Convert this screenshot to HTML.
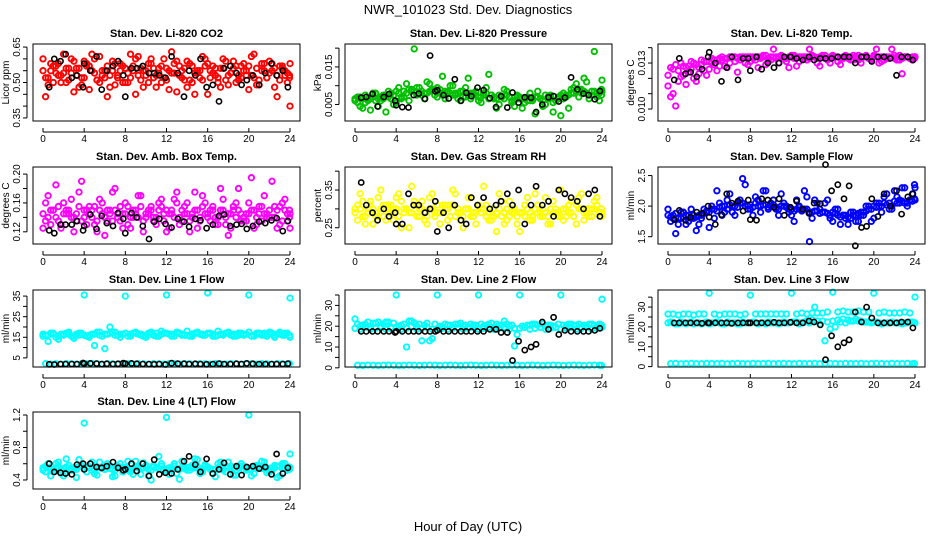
<!DOCTYPE html>
<html><head><meta charset="utf-8"><style>
html,body{margin:0;padding:0;background:#fff;}
svg{display:block;font-family:"Liberation Sans",Arial,sans-serif;}
</style></head><body>
<svg id="chart" width="936" height="540" viewBox="0 0 936 540">
<rect x="0" y="0" width="936" height="540" fill="#fff"/>
<text x="468" y="14" font-size="13" text-anchor="middle">NWR_101023 Std. Dev. Diagnostics</text>
<text x="468" y="531" font-size="13" text-anchor="middle">Hour of Day (UTC)</text>
</svg>
<script>
// shared hours
const H1 = [0,0.5,1,1.5,2,2.5,3,3.5,4,4.5,5,5.5,6,6.5,7,7.5,8,8.5,9,9.5,10,10.5,11,11.5,12,12.5,13,13.5,14,14.5,15,15.5,16,16.5,17,17.5,18,18.5,19,19.5,20,20.5,21,21.5,22,22.5,23,23.5,24];
const H2 = [0.25,0.75,1.25,1.75,2.25,2.75,3.25,3.75,4.25,4.75,5.25,5.75,6.25,6.75,7.25,7.75,8.25,8.75,9.25,9.75,10.25,10.75,11.25,11.75,12.25,12.75,13.25,13.75,14.25,14.75,15.25,15.75,16.25,16.75,17.25,17.75,18.25,18.75,19.25,19.75,20.25,20.75,21.25,21.75,22.25,22.75,23.25,23.75,23.95];
const BH = [0.6,1.1,1.7,2.2,2.8,3.3,3.9,4.0,4.6,5.2,5.7,6.2,6.8,7.3,7.8,8.0,8.6,9.1,9.7,10.3,10.8,11.3,11.9,12.5,13.1,13.7,14.2,14.8,15.3,15.9,16.5,17.1,17.6,18.2,18.8,19.3,19.8,20.4,21.0,21.6,22.2,22.7,23.3,23.8];
const xTicks = [0,4,8,12,16,20,24];

// CO2
const co2A=[.60,.49,.57,.53,.62,.51,.46,.56,.59,.47,.54,.61,.52,.48,.58,.55,.50,.62,.45,.56,.53,.60,.48,.57,.51,.63,.46,.55,.59,.50,.54,.61,.45,.57,.52,.60,.49,.56,.53,.58,.47,.62,.51,.55,.59,.48,.57,.53,.40];
const co2B=[.55,.52,.50,.58,.54,.56,.59,.48,.52,.57,.60,.50,.55,.53,.49,.58,.56,.52,.60,.51,.55,.58,.53,.50,.56,.54,.59,.52,.48,.57,.55,.51,.58,.54,.50,.56,.53,.59,.51,.55,.57,.52,.49,.58,.54,.56,.51,.55,.58];
const co2C=[.44,.58,.54,.50,.56,.60,.53,.49,.57,.62,.51,.55,.44,.59,.53,.57,.50,.55,.61,.48,.58,.52,.56,.60,.47,.54,.57,.51,.58,.45,.55,.60,.52,.56,.48,.59,.54,.50,.57,.53,.61,.49,.55,.52,.58,.44,.56,.50,.53];
const co2D=[.52,.55,.57,.53,.50,.54,.56,.52,.58,.55,.51,.53,.57,.55,.52,.50,.54,.57,.53,.55,.50,.56,.54,.52,.55,.58,.53,.56,.51,.54,.52,.57,.55,.53,.56,.51,.54,.57,.52,.55,.53,.56,.58,.52,.55,.53,.57,.54,.52];
const co2K=[.48,.60,.59,.62,.52,.53,.48,.58,.55,.61,.47,.55,.57,.59,.53,.44,.56,.56,.57,.54,.54,.53,.52,.61,.54,.44,.55,.53,.60,.48,.49,.42,.56,.57,.54,.49,.51,.53,.49,.54,.58,.53,.55,.48];
// Pressure
const prA=[.0065,.0045,.0075,.0035,.0060,.0070,.0030,.0080,.0055,.0065,.0105,.0085,.0095,.0075,.0110,.0090,.0070,.0125,.0080,.0100,.0065,.0085,.0120,.0075,.0060,.0080,.0130,.0065,.0050,.0090,.0070,.0045,.0065,.0055,.0080,.0025,.0065,.0050,.0075,.0060,.0020,.0075,.0090,.0105,.0080,.0110,.0085,.0070,.0115];
const prB=[.0060,.0070,.0055,.0065,.0080,.0060,.0075,.0065,.0085,.0070,.0080,.0090,.0075,.0085,.0080,.0090,.0095,.0080,.0085,.0075,.0080,.0070,.0075,.0080,.0070,.0075,.0065,.0070,.0075,.0065,.0070,.0060,.0070,.0065,.0060,.0070,.0065,.0075,.0070,.0060,.0075,.0070,.0080,.0085,.0090,.0080,.0075,.0080,.0085];
const prC=[.0070,.0040,.0065,.0080,.0045,.0065,.0085,.0050,.0095,.0070,.0060,.0198,.0080,.0065,.0105,.0075,.0090,.0065,.0100,.0080,.0060,.0095,.0065,.0085,.0055,.0095,.0075,.0040,.0070,.0085,.0055,.0075,.0040,.0070,.0060,.0085,.0045,.0070,.0030,.0065,.0080,.0040,.0095,.0070,.0120,.0065,.0191,.0060,.0090];
const prD=[.0055,.0065,.0060,.0070,.0065,.0075,.0070,.0075,.0080,.0085,.0090,.0085,.0095,.0080,.0085,.0090,.0080,.0085,.0080,.0075,.0085,.0070,.0080,.0075,.0070,.0080,.0075,.0065,.0070,.0075,.0060,.0070,.0065,.0060,.0065,.0070,.0060,.0065,.0055,.0070,.0065,.0075,.0080,.0090,.0085,.0075,.0085,.0080,.0075];
const prK=[.0068,.0070,.0078,.0045,.0070,.0078,.0060,.0048,.0043,.0042,.0075,.0079,.0065,.0180,.0085,.0088,.0075,.0066,.0117,.0060,.0081,.0072,.0095,.0088,.0067,.0043,.0072,.0042,.0082,.0055,.0069,.0068,.0030,.0050,.0069,.0072,.0058,.0068,.0122,.0090,.0079,.0075,.0064,.0086];
// Temp
const tpA=[.0115,.0110,.0118,.0122,.0128,.0120,.0127,.0125,.0131,.0129,.0133,.0128,.0134,.0131,.0134,.0130,.0134,.0132,.0134,.0129,.0134,.0133,.0135,.0131,.0134,.0128,.0134,.0132,.0134,.0130,.0135,.0133,.0134,.0131,.0134,.0133,.0135,.0132,.0134,.0133,.0134,.0130,.0134,.0133,.0135,.0132,.0134,.0133,.0134];
const tpB=[.0122,.0126,.0125,.0128,.0124,.0130,.0123,.0131,.0126,.0132,.0128,.0133,.0130,.0134,.0132,.0134,.0131,.0134,.0133,.0135,.0132,.0134,.0134,.0133,.0135,.0134,.0133,.0134,.0135,.0133,.0134,.0132,.0135,.0134,.0133,.0134,.0132,.0135,.0134,.0133,.0135,.0134,.0132,.0134,.0133,.0135,.0134,.0133,.0134];
const tpC=[.0108,.0102,.0121,.0116,.0126,.0118,.0129,.0122,.0130,.0125,.0132,.0127,.0134,.0124,.0133,.0129,.0134,.0127,.0135,.0131,.0139,.0130,.0134,.0127,.0135,.0131,.0133,.0139,.0134,.0128,.0135,.0130,.0134,.0129,.0135,.0132,.0134,.0130,.0135,.0132,.0139,.0131,.0134,.0139,.0132,.0123,.0134,.0132,.0134];
const tpD=[.0127,.0129,.0130,.0127,.0131,.0129,.0132,.0131,.0133,.0132,.0134,.0133,.0134,.0133,.0134,.0134,.0133,.0134,.0134,.0133,.0134,.0134,.0133,.0134,.0133,.0134,.0134,.0133,.0134,.0134,.0133,.0134,.0134,.0133,.0134,.0134,.0133,.0134,.0134,.0133,.0134,.0134,.0133,.0134,.0134,.0133,.0134,.0134,.0133];
const tpK=[.0119,.0133,.0123,.0124,.0121,.0126,.0134,.0137,.0130,.0118,.0127,.0134,.0119,.0133,.0133,.0125,.0134,.0126,.0130,.0127,.0130,.0134,.0134,.0133,.0132,.0134,.0132,.0133,.0133,.0133,.0134,.0134,.0134,.0130,.0134,.0134,.0131,.0134,.0134,.0133,.0122,.0134,.0134,.0132];
// Amb box temp
const abA=[.125,.170,.150,.135,.160,.145,.120,.175,.140,.155,.130,.165,.115,.150,.180,.135,.160,.125,.145,.170,.140,.155,.130,.165,.120,.150,.175,.135,.160,.145,.125,.170,.140,.155,.130,.165,.115,.150,.180,.135,.160,.125,.145,.170,.140,.155,.130,.165,.125];
const abB=[.145,.140,.150,.155,.145,.150,.140,.155,.150,.145,.155,.150,.140,.145,.150,.155,.145,.140,.150,.155,.145,.150,.140,.155,.150,.145,.160,.150,.145,.140,.150,.155,.145,.150,.140,.150,.145,.155,.150,.140,.145,.150,.155,.145,.150,.140,.155,.150,.145];
const abC=[.160,.130,.185,.125,.145,.165,.135,.190,.130,.150,.120,.160,.135,.175,.145,.125,.155,.140,.170,.120,.150,.135,.160,.145,.125,.165,.140,.155,.120,.175,.135,.160,.150,.130,.180,.140,.125,.160,.145,.135,.195,.130,.155,.140,.190,.125,.160,.135,.150];
const abD=[.135,.150,.140,.130,.150,.140,.145,.135,.150,.140,.135,.145,.150,.135,.140,.145,.130,.150,.140,.135,.145,.140,.150,.135,.145,.140,.130,.145,.135,.150,.140,.145,.135,.140,.150,.130,.145,.140,.135,.145,.150,.140,.135,.145,.140,.150,.135,.145,.140];
const abK=[.122,.118,.130,.130,.130,.135,.122,.128,.144,.124,.142,.132,.128,.146,.138,.118,.146,.140,.128,.110,.134,.138,.131,.126,.138,.134,.127,.138,.136,.125,.130,.142,.144,.128,.130,.131,.124,.128,.134,.132,.136,.139,.121,.135];
// Gas stream RH
const rhA=[.30,.34,.26,.32,.28,.35,.27,.31,.33,.25,.30,.36,.28,.32,.26,.34,.29,.31,.27,.35,.30,.25,.33,.28,.31,.36,.27,.30,.34,.26,.32,.29,.24,.31,.27,.34,.29,.33,.26,.30,.35,.28,.32,.26,.34,.30,.28,.33,.29];
const rhB=[.29,.30,.28,.31,.29,.30,.31,.29,.30,.32,.30,.29,.31,.30,.28,.30,.31,.29,.30,.31,.29,.28,.30,.29,.31,.30,.29,.28,.30,.29,.28,.30,.29,.28,.29,.30,.28,.29,.30,.29,.28,.30,.29,.31,.30,.29,.30,.31,.29];
const rhC=[.27,.32,.30,.26,.33,.28,.31,.27,.34,.29,.25,.32,.30,.27,.33,.29,.26,.31,.28,.34,.27,.30,.33,.26,.29,.31,.28,.24,.32,.27,.30,.26,.29,.33,.27,.31,.28,.26,.32,.29,.27,.31,.28,.33,.27,.30,.32,.29,.28];
const rhD=[.31,.28,.29,.30,.28,.31,.29,.30,.28,.30,.29,.31,.28,.29,.30,.28,.29,.30,.31,.28,.29,.30,.28,.29,.30,.28,.27,.29,.28,.30,.29,.28,.29,.30,.28,.29,.30,.28,.29,.28,.30,.29,.28,.30,.29,.28,.30,.29,.30];
const rhK=[.37,.31,.29,.27,.30,.28,.29,.26,.26,.34,.31,.31,.29,.30,.32,.24,.29,.25,.31,.27,.26,.33,.31,.33,.30,.31,.32,.34,.31,.35,.26,.31,.36,.31,.32,.28,.35,.34,.33,.32,.30,.34,.35,.28];
// Sample flow
const sfA=[1.95,1.80,1.70,1.90,1.75,1.85,1.70,1.95,1.65,1.80,2.05,1.90,2.20,1.85,2.10,2.35,1.95,2.15,1.90,2.25,2.05,1.95,2.20,2.00,1.85,2.10,1.95,2.15,1.80,2.05,1.90,2.10,1.75,1.95,1.85,1.70,1.90,1.75,1.85,2.00,1.80,2.05,2.15,1.95,2.25,2.05,2.30,2.10,2.30];
const sfB=[1.85,1.85,1.80,1.82,1.85,1.80,1.85,1.88,1.90,1.95,1.98,2.00,2.02,2.00,2.05,2.00,2.02,2.05,2.00,2.02,2.00,1.98,2.00,1.98,1.95,1.95,1.92,1.95,1.90,1.92,1.90,1.88,1.90,1.85,1.85,1.82,1.85,1.88,1.90,1.95,2.00,2.00,2.05,2.05,2.08,2.10,2.05,2.10,2.10];
const sfC=[1.75,1.55,1.90,1.70,1.95,1.60,1.80,1.90,2.00,2.25,1.85,2.10,1.90,2.05,2.45,1.95,1.85,2.10,2.25,1.95,2.10,1.85,2.05,1.90,1.75,2.00,2.25,1.42,2.10,1.95,2.05,1.80,1.95,1.70,1.80,1.90,1.75,1.85,2.00,1.75,2.05,1.90,2.20,1.95,2.15,2.30,2.00,2.20,2.35];
const sfD=[1.82,1.88,1.80,1.85,1.80,1.82,1.85,1.92,1.95,1.92,2.00,1.95,2.00,1.98,2.05,2.00,1.98,2.00,2.02,1.98,2.02,1.95,2.00,1.95,1.92,1.98,1.95,1.90,1.92,1.88,1.90,1.85,1.88,1.82,1.85,1.80,1.85,1.90,1.92,1.95,1.98,2.00,2.02,2.00,2.05,2.08,2.05,2.08,2.12];
const sfK=[1.78,1.93,1.77,1.82,1.90,1.88,2.00,1.82,1.70,1.86,2.20,2.05,2.08,1.92,2.10,1.78,1.77,2.12,2.10,1.98,2.12,1.85,1.98,2.08,1.95,1.88,2.05,2.04,2.68,2.25,2.35,2.12,2.33,1.35,1.65,1.67,2.12,1.83,2.20,2.00,2.25,1.87,2.15,2.20];
// Line 1 flow
const l1A=[15.5,16,16.5,15.5,16,16.5,15.5,16,35.5,16,16.5,16,16.5,17,16,16.5,35,16.5,17,16.5,16,16.5,17,16.5,35.5,16.5,17,16.5,16,16.5,17,16.5,36.5,16.5,16,16.5,17,16.5,16,16.5,35.5,16,16.5,17,16.5,16,16.5,17,34];
const l1B=[16.5,13,17,14,16.5,17.5,14.5,17,16,15,11,17.5,9.5,20,17.5,15,17,15.5,17.5,16,15,17.5,15.5,18,17,15.5,17.5,16,18,15.5,17.5,16,17,15.5,18,16,17.5,15.5,17,16,17.5,15.5,17,16,17.5,15,17.5,16,15];
const l1C=[16,17,15,16.5,17,15.5,16.5,17,15.5,16.5,17.5,15.5,16.5,17.5,16,16.5,15.5,17,16.5,15.5,17,16,15.5,17,16.5,15.5,17,16,15.5,17,16.5,16,17,15.5,16.5,17,16,15.5,17,16.5,15.5,17,16,15.5,17,16.5,16,17,16];
const l1D=[2.2,2,2.1,2,2.2,2.1,2,2.2,2.1,2.3,2.1,2,2.2,2.1,2,2.2,2.1,2,2.2,2.1,2,2.2,2.1,2,2.2,2.1,2,2.2,2.1,2,2.2,2.1,2,2.2,2.1,2,2.2,2.1,2,2.2,2.1,2,2.2,2.1,2,2.2,2.1,2,2.2];
const l1K=[1.9,1.8,2.0,2.0,2.0,2.0,2.5,2.2,2.3,2.2,2.0,2.1,2.0,2.1,2.4,2.2,2.3,2.1,2.0,2.0,1.9,2.0,1.8,2.4,2.2,2.1,2.0,2.1,2.0,1.9,2.0,2.2,2.0,2.0,2.1,2.0,2.3,2.1,2.0,2.0,2.0,2.0,2.0,2.2];
// Line 2 flow
const l2A=[23.5,20,21,19.5,21.5,20,22,19.5,35,20.5,10,22.5,20,13,21.5,14,35,19,20.5,19.5,21,20,19.5,20.5,35,20,21,19.5,20.5,22.5,20,19,35,19.5,20.5,21,19.5,20,20.5,19.5,35,20,21,20.5,19.5,20,21,20,33];
const l2B=[19,18.5,19.5,18.5,19,19.5,18.5,19,19.5,18.5,19,20,18.5,19,19.5,18.5,19,19.5,18.5,19,19.5,18.5,19,19.5,18.5,19,19.5,18.5,19,19.5,18.5,10.5,19,19.5,18.5,19,19.5,18.5,19,19.5,18.5,19,19.5,18.5,19,19.5,18.5,19,19.5];
const l2C=[21,20.5,22,21.5,22,21,22,21.5,20,21,22.5,21.5,21,20.5,13,21,20,21,20.5,21,21.5,20.5,21,20.5,21,20.5,21.5,21,20.5,21,20.5,16,20,20.5,21,20.5,21,20.5,20,21,20.5,21,20.5,21,20.5,21,20.5,21,20.5];
const l2D=[1.2,1.1,1.3,1.2,1.1,1.2,1.3,1.2,1.1,1.2,1.3,1.2,1.1,1.2,1.3,1.2,1.1,1.2,1.3,1.2,1.1,1.2,1.3,1.2,1.1,1.2,1.3,1.2,1.1,1.2,1.3,1.2,1.1,1.2,1.3,1.2,1.1,1.2,1.3,1.2,1.1,1.2,1.3,1.2,1.1,1.2,1.3,1.2,1.1];
const l2K=[17.5,17.5,17.5,17.5,17.5,17.5,17,17.5,17.5,17.5,17.5,17.5,17.5,17.5,17.5,18,17.5,17.5,17.5,17.5,17.5,17.5,17.5,17.5,18.5,18.5,17,17,3.5,12.8,8.5,10,11.3,22,18.5,24.3,16,18,17.5,17.5,17.5,17.5,18,19];
// Line 3 flow
const l3A=[26.5,26.5,26,26.5,26.5,26,26.5,26.5,37,26.5,26,26.5,26.5,26.5,26,26.5,36,26.5,26.5,26.5,26.5,26.5,26.5,26.5,37,26.5,27,26.5,27,27,27,27.5,37.5,27.5,28,27.5,27.5,28,27.5,27.5,37,27,27.5,27,27,27,27.5,27,35];
const l3B=[22,22,21.5,22,22,21.5,22,22,21.5,22,22,21.5,22,22,21.5,22,22,22,22,21.5,22,22,22,22,22.5,22.5,22,23,23.5,23,23,22.5,23,23.5,24,23.5,23,23,22.5,22.5,22.5,22,22,22,22,22,22,22.5,22];
const l3C=[22.5,21.5,22.5,21.5,22.5,22,21.5,22.5,22,22.5,21.5,22.5,22,21.5,22.5,22,22.5,21.5,22,22.5,22,21.5,22.5,22,22.5,21.5,22.5,22,30,21.5,13,19,20,22.5,22,23,24,23,22.5,22,22.5,21.5,22,22.5,22,21.5,22,22.5,22];
const l3D=[1.5,1.6,1.4,1.5,1.6,1.5,1.4,1.6,1.5,1.5,1.6,1.4,1.5,1.6,1.5,1.4,1.6,1.5,1.5,1.6,1.4,1.5,1.6,1.5,1.4,1.6,1.5,1.5,1.6,1.4,1.5,1.6,1.5,1.4,1.6,1.5,1.5,1.6,1.4,1.5,1.6,1.5,1.4,1.6,1.5,1.5,1.6,1.4,1.5];
const l3K=[22,22,22,22,22,21.8,22,22,22,22,22,21.8,22,22,22,22,22,22,22,22.3,22,22,22.3,22,22,23,22.5,21,3.5,15.5,10,12,13.5,27.5,22.5,30,24.5,22,22,22,22,22.5,22.5,19.5];
// Line 4 flow
const l4A=[.55,.60,.50,.62,.45,.58,.52,.65,1.10,.55,.48,.62,.53,.58,.45,.60,.55,.50,.63,.47,.58,.40,.55,.60,1.17,.52,.48,.63,.55,.58,.65,.50,.56,.48,.60,.53,.62,.46,.57,.52,1.20,.48,.55,.62,.50,.58,.45,.60,.72];
const l4B=[.52,.55,.53,.56,.54,.52,.55,.57,.54,.56,.53,.55,.57,.54,.52,.56,.55,.53,.57,.54,.56,.52,.55,.57,.53,.55,.54,.56,.52,.55,.57,.54,.56,.53,.55,.52,.56,.54,.55,.57,.53,.55,.54,.56,.52,.55,.57,.54,.55];
const l4C=[.50,.45,.60,.48,.66,.52,.43,.58,.50,.62,.46,.55,.60,.44,.57,.50,.63,.47,.55,.61,.45,.58,.69,.52,.47,.60,.41,.56,.52,.66,.48,.59,.53,.44,.62,.50,.57,.46,.60,.52,.45,.58,.63,.49,.55,.43,.60,.52,.56];
const l4D=[.57,.53,.55,.52,.56,.54,.53,.57,.55,.52,.56,.54,.57,.53,.55,.56,.52,.54,.57,.55,.53,.56,.54,.52,.55,.57,.53,.54,.56,.55,.52,.57,.54,.53,.55,.56,.54,.52,.57,.55,.53,.56,.54,.55,.52,.57,.54,.56,.53];
const l4K=[.60,.50,.49,.48,.47,.59,.60,.53,.60,.56,.55,.57,.62,.55,.52,.53,.60,.51,.60,.45,.65,.47,.49,.48,.53,.63,.69,.59,.50,.66,.48,.53,.61,.47,.57,.46,.56,.57,.54,.56,.47,.72,.48,.55];

// tick arrays
const co2Ticks=[.35,.40,.45,.50,.55,.60,.65], co2Labels=["0.35","0.50","0.65"];
const prTicks=[.005,.010,.015,.020], prLabels=["0.005","0.015"];
const tpTicks=[.010,.011,.012,.013,.014], tpLabels=["0.010","0.013"];
const abTicks=[.12,.14,.16,.18,.20], abLabels=["0.12","0.16","0.20"];
const rhTicks=[.25,.30,.35,.40], rhLabels=["0.25","0.35"];
const sfTicks=[1.5,2.0,2.5], sfLabels=["1.5","2.0","2.5"];
const l1Ticks=[5,10,15,20,25,30,35], l1Labels=["5","15","25","35"];
const l2Ticks=[0,5,10,15,20,25,30,35], l2Labels=["0","10","20","30"];
const l4Ticks=[0.4,0.6,0.8,1.0,1.2], l4Labels=["0.4","0.8","1.2"];

const NS="http://www.w3.org/2000/svg";
const svg=document.getElementById('chart');
function mk(tag,attrs,parent){const e=document.createElementNS(NS,tag);for(const k in attrs)e.setAttribute(k,attrs[k]);(parent||svg).appendChild(e);return e;}

const colL=[33,345,658], rowT=[44,167,290,412], W=267, HT=77;
const panels=[
 {key:'co2',title:'Stan. Dev. Li-820 CO2',yl:'Licor ppm',c:0,r:0,lim:[.337,.663],col:'#ff0000',series:[[H1,co2A],[H1,co2B],[H2,co2C],[H2,co2D]],k:co2K,ticks:co2Ticks,labels:co2Labels},
 {key:'pressure',title:'Stan. Dev. Li-820 Pressure',yl:'kPa',c:1,r:0,lim:[.0006,.0211],col:'#00c000',series:[[H1,prA],[H1,prB],[H2,prC],[H2,prD]],k:prK,ticks:prTicks,labels:prLabels},
 {key:'temp',title:'Stan. Dev. Li-820 Temp.',yl:'degrees C',c:2,r:0,lim:[.00922,.01424],col:'#ff00ff',series:[[H1,tpA],[H1,tpB],[H2,tpC],[H2,tpD]],k:tpK,ticks:tpTicks,labels:tpLabels},
 {key:'amb-box-temp',title:'Stan. Dev. Amb. Box Temp.',yl:'degrees C',c:0,r:1,lim:[.1031,.2098],col:'#ff00ff',series:[[H1,abA],[H1,abB],[H2,abC],[H2,abD]],k:abK,ticks:abTicks,labels:abLabels},
 {key:'gas-rh',title:'Stan. Dev. Gas Stream RH',yl:'percent',c:1,r:1,lim:[.207,.411],col:'#ffff00',series:[[H1,rhA],[H1,rhB],[H2,rhC],[H2,rhD]],k:rhK,ticks:rhTicks,labels:rhLabels},
 {key:'sample-flow',title:'Stan. Dev. Sample Flow',yl:'ml/min',c:2,r:1,lim:[1.38,2.64],col:'#0000ff',series:[[H1,sfA],[H1,sfB],[H2,sfC],[H2,sfD]],k:sfK,ticks:sfTicks,labels:sfLabels},
 {key:'line1-flow',title:'Stan. Dev. Line 1 Flow',yl:'ml/min',c:0,r:2,lim:[.57,37.95],col:'#00ffff',series:[[H1,l1A],[H1,l1B],[H2,l1C],[H2,l1D]],k:l1K,ticks:l1Ticks,labels:l1Labels},
 {key:'line2-flow',title:'Stan. Dev. Line 2 Flow',yl:'ml/min',c:1,r:2,lim:[0.4,37.4],col:'#00ffff',series:[[H1,l2A],[H1,l2B],[H2,l2C],[H2,l2D]],k:l2K,ticks:l2Ticks,labels:l2Labels},
 {key:'line3-flow',title:'Stan. Dev. Line 3 Flow',yl:'ml/min',c:2,r:2,lim:[-0.2,38.6],col:'#00ffff',series:[[H1,l3A],[H1,l3B],[H2,l3C],[H2,l3D]],k:l3K,ticks:l2Ticks,labels:l2Labels},
 {key:'line4-flow',title:'Stan. Dev. Line 4 (LT) Flow',yl:'ml/min',c:0,r:3,lim:[.289,1.237],col:'#00ffff',series:[[H1,l4A],[H1,l4B],[H2,l4C],[H2,l4D]],k:l4K,ticks:l4Ticks,labels:l4Labels}
];

panels.forEach(p=>{
  const L=colL[p.c], T=rowT[p.r], B=T+HT, R=L+W;
  const g=mk('g',{});
  
  
  const xs=h=>L+10+h*(W-20)/24;
  const ys=v=>B-(v-p.lim[0])/(p.lim[1]-p.lim[0])*HT;
  const t=mk('text',{x:(L+R)/2,y:T-7,'font-size':11,'font-weight':'bold','text-anchor':'middle'},g);
  t.textContent=p.title;
  
  
  const pts=mk('g',{fill:'none',stroke:p.col,'stroke-width':1.9},g);
  
  
  p.series.forEach(s=>{
    s[1].forEach((v,i)=>{
      const c=mk('circle',{cx:xs(s[0][i]).toFixed(1),cy:ys(v).toFixed(1),r:2.7},pts);
      
      
    });
  });
  const kp=mk('g',{fill:'none',stroke:'#000','stroke-width':1.6},g);
  
  
  p.k.forEach((v,i)=>{
    const c=mk('circle',{cx:xs(BH[i]).toFixed(1),cy:ys(v).toFixed(1),r:2.6},kp);
    
    
  });
  const box=mk('rect',{x:L,y:T,width:W,height:HT,fill:'none',stroke:'#000','stroke-width':1},g);
  
  
  const xa=mk('g',{stroke:'#000','stroke-width':1},g);
  
  
  const ay=B+11;
  mk('line',{x1:xs(0),x2:xs(24),y1:ay,y2:ay},xa);
  xTicks.forEach(h=>{
    mk('line',{x1:xs(h),x2:xs(h),y1:ay,y2:ay-4},xa);
    const tx=mk('text',{x:xs(h),y:ay+10,'font-size':10,'text-anchor':'middle',stroke:'none',fill:'#000'},xa);
    tx.textContent=String(h);
    
    
  });
  const ya=mk('g',{stroke:'#000','stroke-width':1},g);
  
  
  const tk=p.ticks.filter(v=>ys(v)>=T-4&&ys(v)<=B+1);
  mk('line',{x1:L-6,x2:L-6,y1:ys(tk[0]),y2:ys(tk[tk.length-1])},ya);
  tk.forEach(v=>{mk('line',{x1:L-6,x2:L-10,y1:ys(v),y2:ys(v)},ya);});
  p.labels.forEach(lb=>{
    const v=parseFloat(lb), yy=ys(v);
    const tx=mk('text',{x:0,y:0,'font-size':10,'text-anchor':'middle',stroke:'none',fill:'#000',transform:`translate(${L-13},${yy}) rotate(-90)`},ya);
    tx.textContent=lb;
    
    
  });
  const yt=mk('text',{x:0,y:0,'font-size':10,'text-anchor':'middle',fill:'#000',transform:`translate(${L-24},${(T+B)/2}) rotate(-90)`},g);
  yt.textContent=p.yl;
  
  
});
</script>
</body></html>
